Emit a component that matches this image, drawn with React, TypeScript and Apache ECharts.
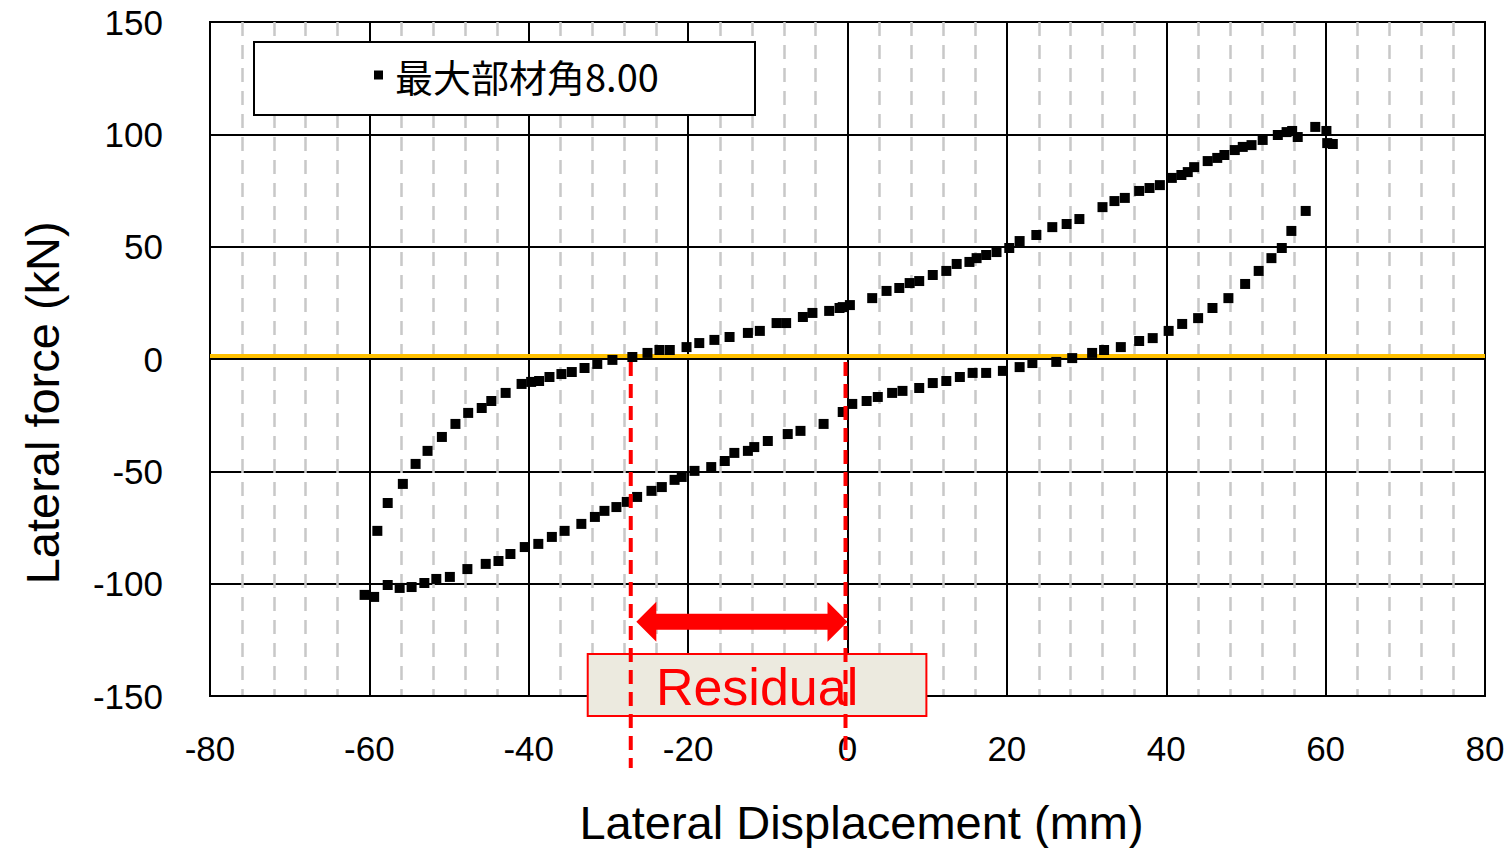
import React, { useEffect, useRef } from "react";
import * as echarts from "echarts";

// Hysteresis loop data (displacement mm, force kN)
const loadingDisp = [-60.6,-59.4,-57.7,-56.2,-54.7,-53.1,-51.6,-49.9,-47.7,-45.4,-43.8,-42.3,-40.5,-38.8,-37.1,-35.5,-33.4,-31.7,-30.5,-29.0,-27.7,-26.4,-24.6,-23.3,-21.7,-20.8,-19.2,-17.1,-15.4,-14.2,-12.5,-11.7,-10.0,-7.5,-5.9,-3.0,-0.6,0.6,2.4,3.8,5.6,6.9,9.0,10.7,12.4,14.1,15.7,17.4,19.5,21.6,23.2,26.2,28.2,30.7,32.2,34.3,36.6,38.3,40.3,42.0,44.0,45.8,47.8,49.9,51.6,53.2,54.5,55.7,57.5];
const loadingForce = [-105.0,-105.9,-100.6,-101.9,-101.5,-99.7,-97.9,-97.0,-93.5,-91.2,-89.9,-86.8,-83.7,-82.3,-79.2,-76.5,-73.4,-70.3,-67.6,-65.9,-63.6,-61.4,-58.7,-57.0,-53.8,-52.5,-49.8,-48.1,-45.4,-41.8,-40.9,-39.2,-36.5,-33.4,-32.0,-28.9,-23.6,-20.0,-18.7,-16.9,-15.1,-14.2,-12.9,-10.7,-9.8,-8.0,-6.2,-6.2,-5.3,-3.6,-1.8,-1.3,0.4,2.7,4.0,5.3,8.0,9.3,12.5,15.6,18.2,22.7,27.1,33.4,39.2,44.9,49.4,57.0,65.9];
const peakDisp = [55.8,56.5,58.7,60.1,60.2,60.9];
const peakForce = [101.5,98.8,103.3,101.5,96.1,95.7];
const unloadingDisp = [55.1,54.0,52.1,50.7,49.6,48.6,47.3,46.4,45.2,43.5,42.7,41.9,40.7,39.2,37.9,36.6,34.8,33.5,32.0,29.1,27.5,25.7,23.7,21.6,20.3,18.7,17.4,16.2,15.3,13.7,12.4,10.7,9.0,7.8,6.5,4.9,3.1,0.3,-0.6,-1.0,-2.3,-4.4,-5.6,-7.7,-8.9,-11.0,-12.5,-14.8,-16.7,-18.6,-20.2,-22.3,-23.6,-25.1,-27.0,-29.5,-31.4,-33.0,-34.6,-35.9,-37.4,-38.7,-39.7,-40.9,-42.9,-44.7,-45.9,-47.6,-49.2,-50.9,-52.7,-54.2,-55.8,-57.7,-59.0];
const unloadingForce = [101.0,99.7,97.5,95.2,94.4,93.0,90.8,89.5,88.1,85.4,83.2,81.9,80.6,77.4,76.1,74.8,71.7,70.3,67.6,62.3,60.1,58.7,55.2,52.5,49.4,47.6,46.3,44.9,43.2,42.3,39.2,37.4,34.7,33.8,31.6,30.3,27.1,24.0,23.1,22.7,21.4,20.5,18.7,16.0,16.0,12.5,11.6,9.8,8.5,7.1,5.3,4.0,4.0,2.7,0.9,-0.4,-2.2,-4.0,-5.8,-6.7,-8.0,-9.8,-10.2,-11.1,-15.1,-18.7,-21.8,-24.0,-28.9,-34.7,-40.9,-46.7,-55.6,-64.1,-76.5];

const seriesName = "最大部材角8.00";
const xTitle = "Lateral Displacement (mm)";
const yTitle = "Lateral force (kN)";
const annotationText = "Residual";

// Annotation values (in data units)
const zeroLineValue = 1.3;
const residualStart = -27.2;
const residualEnd = -0.25;
const arrowFrom = -26.5;
const arrowTo = 0;
const arrowForce = -117;
const boxFrom = -32.6;
const boxTo = 9.9;
const boxTopForce = -131.3;
const yTitleCenterForce = -19.5;

function pairs(xs: number[], ys: number[]) {
  return xs.map((x, i) => [x, ys[i]]);
}

export default function App() {
  const ref = useRef<HTMLDivElement>(null);
  useEffect(() => {
    document.body.style.margin = "0";
    const chart = echarts.init(ref.current!, null, { renderer: "svg" });
    const data = [
      ...pairs(loadingDisp, loadingForce),
      ...pairs(peakDisp, peakForce),
      ...pairs(unloadingDisp, unloadingForce),
    ];
    const tickFont = { fontFamily: "Liberation Sans", fontSize: 35, color: "#000" };
    chart.setOption({
      animation: false,
      backgroundColor: "#fff",
      grid: {
        left: 210, right: 24, top: 22, bottom: 152,
        containLabel: false, outerBoundsMode: "none",
        show: true, borderColor: "#000", borderWidth: 2, backgroundColor: "transparent",
      },
      legend: {
        left: 369, top: 51,
        icon: "rect", itemWidth: 9, itemHeight: 9, itemGap: 10,
        textStyle: { fontFamily: "Noto Sans CJK JP", fontSize: 38, color: "#000", padding: [0, 0, 0, 7] },
        z: 5,
        data: [seriesName],
      },
      xAxis: {
        type: "value", min: -80, max: 80, interval: 20,
        name: xTitle, nameLocation: "middle", nameGap: 103,
        nameTextStyle: { fontFamily: "Liberation Sans", fontSize: 47, color: "#000", padding: [0, 0, 0, 28] },
        axisLine: { show: true, onZero: false, lineStyle: { color: "#000", width: 2 } },
        axisTick: { show: false },
        axisLabel: { ...tickFont, margin: 35 },
        splitLine: { show: true, lineStyle: { color: "#000", width: 2 } },
        minorTick: { show: false, splitNumber: 5 },
        minorSplitLine: { show: true, lineStyle: { color: "#c8c8c8", width: 2.5, type: [14, 9] } },
      },
      yAxis: {
        type: "value", min: -150, max: 150, interval: 50,
        axisLine: { show: true, onZero: false, lineStyle: { color: "#000", width: 2 } },
        axisTick: { show: false },
        axisLabel: { ...tickFont, margin: 47 },
        splitLine: { show: true, lineStyle: { color: "#000", width: 2 } },
      },
      series: [
        {
          name: seriesName,
          type: "scatter",
          symbol: "rect",
          symbolSize: 10,
          itemStyle: { color: "#000", opacity: 1 },
          emphasis: { disabled: true },
          data,
          z: 3,
          markLine: {
            silent: true,
            symbol: "none",
            label: { show: false },
            lineStyle: { color: "#FFC000", width: 4, type: "solid" },
            data: [{ yAxis: zeroLineValue }],
            z: 2,
          },
        },
      ],
    });

    const px = (x: number, y: number) => chart.convertToPixel({ gridIndex: 0 }, [x, y]) as number[];
    const [r1x, topY] = px(residualStart, -1.3);
    const [r2x] = px(residualEnd, -1.3);
    const [leftX, bottomY] = px(-80, -150);
    const [, yTitleY] = px(0, yTitleCenterForce);
    const [a1x, ay] = px(arrowFrom, arrowForce);
    const [a2x] = px(arrowTo, arrowForce);
    const [b1x, b1y] = px(boxFrom, boxTopForce);
    const [b2x] = px(boxTo, boxTopForce);
    const headLen = 20, headHalf = 20, shaftHalf = 8;
    const arrowPts = [
      [a1x, ay],
      [a1x + headLen, ay - headHalf],
      [a1x + headLen, ay - shaftHalf],
      [a2x - headLen, ay - shaftHalf],
      [a2x - headLen, ay - headHalf],
      [a2x, ay],
      [a2x - headLen, ay + headHalf],
      [a2x - headLen, ay + shaftHalf],
      [a1x + headLen, ay + shaftHalf],
      [a1x + headLen, ay + headHalf],
    ];
    const boxH = 62;
    chart.setOption({
      graphic: [
        {
          type: "text", z: 10,
          x: leftX - 168, y: yTitleY, rotation: Math.PI / 2,
          style: {
            text: yTitle, fill: "#000", fontFamily: "Liberation Sans", fontSize: 47,
            align: "center", verticalAlign: "middle",
          },
        },
        {
          type: "rect", z: 3,
          shape: { x: 254, y: 42, width: 501, height: 73 },
          style: { fill: "#fff", stroke: "#000", lineWidth: 2 },
        },
        {
          type: "rect", z: 20,
          shape: { x: b1x, y: b1y, width: b2x - b1x, height: boxH },
          style: { fill: "#ECEADF", stroke: "#FF0000", lineWidth: 2 },
        },
        {
          type: "text", z: 21,
          x: (b1x + b2x) / 2, y: b1y + boxH / 2 + 2,
          style: {
            text: annotationText, fill: "#FF0000", fontFamily: "Liberation Sans", fontSize: 52,
            align: "center", verticalAlign: "middle",
          },
        },
        {
          type: "polygon", z: 22,
          shape: { points: arrowPts },
          style: { fill: "#FF0000" },
        },
        {
          type: "line", z: 23,
          shape: { x1: r1x, y1: topY, x2: r1x, y2: bottomY + 72 },
          style: { stroke: "#FF0000", lineWidth: 4, lineDash: [14, 8] },
        },
        {
          type: "line", z: 23,
          shape: { x1: r2x, y1: topY, x2: r2x, y2: bottomY + 64 },
          style: { stroke: "#FF0000", lineWidth: 4, lineDash: [14, 8] },
        },
      ],
    });
    return () => chart.dispose();
  }, []);
  return (
    <div
      ref={ref}
      style={{ position: "fixed", left: 0, top: 0, width: 1509, height: 848 }}
    />
  );
}
